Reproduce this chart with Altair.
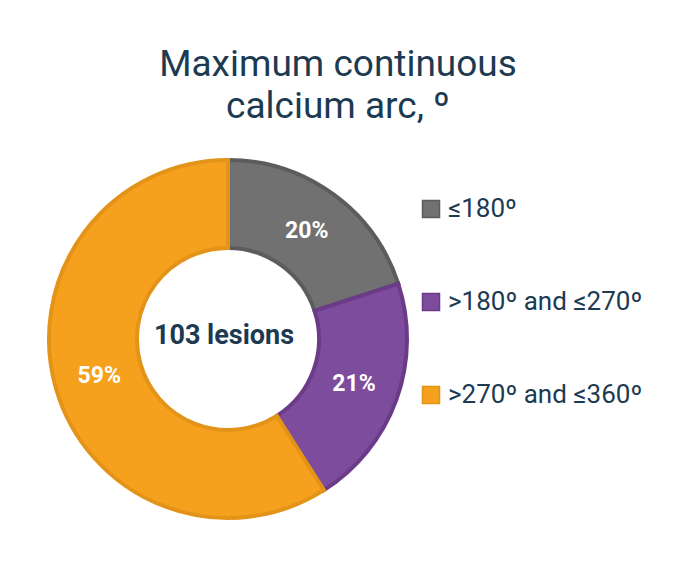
import altair as alt
import pandas as pd

categories = ["≤180º", ">180º and ≤270º", ">270º and ≤360º"]
percentages = [20, 21, 59]
label_texts = ["20%", "21%", "59%"]
fill_colors = ["#717171", "#7E4C9D", "#F5A11E"]
stroke_colors = ["#5C5C5C", "#6B3B88", "#E39418"]
center_label = ["103 lesions"]
title_lines = ["Maximum continuous", "calcium arc, º"]

CX, CY = 220, 191
NAVY = "#1C3A51"

df = pd.DataFrame({
    "category": categories,
    "pct": percentages,
    "label": label_texts,
    "order": list(range(len(categories))),
})
df_center = pd.DataFrame({"text": center_label})

legend = alt.Legend(
    title=None, orient="none", legendX=410, legendY=48,
    symbolType="square", symbolSize=289, symbolStrokeWidth=1.5,
    labelFont="Roboto", labelFontSize=26, labelColor=NAVY,
    labelOffset=4, rowPadding=67, labelLimit=400, padding=0,
)

base = alt.Chart(df).encode(
    theta=alt.Theta("pct:Q", stack=True),
    order=alt.Order("order:Q"),
)

arcs = base.mark_arc(outerRadius=179, innerRadius=91, strokeWidth=4).encode(
    x=alt.value(CX), y=alt.value(CY),
    color=alt.Color("category:N", scale=alt.Scale(domain=categories, range=fill_colors), legend=legend),
    stroke=alt.Stroke("category:N", scale=alt.Scale(domain=categories, range=stroke_colors), legend=legend),
)

labels = base.mark_text(radius=134, font="Roboto", fontSize=23, fontWeight="bold", color="white").encode(
    x=alt.value(CX), y=alt.value(CY),
    text="label:N",
)

center = alt.Chart(df_center).mark_text(
    font="Roboto", fontSize=27, fontWeight="bold", color=NAVY, dx=-4, dy=-3
).encode(
    x=alt.value(CX), y=alt.value(CY), text="text:N"
)

chart = alt.layer(arcs, labels, center).properties(
    width=678, height=400,
    autosize=alt.AutoSizeParams(type="none"),
    padding={"top": 140, "left": 0, "right": 0, "bottom": 0},
    title=alt.TitleParams(
        title_lines, font="Roboto", fontSize=37, fontWeight="normal", color=NAVY,
        anchor="middle", lineHeight=42, dx=-9, offset=22,
    ),
).configure_view(stroke=None)

chart.save("out.html", embed_options={"renderer": "svg", "actions": False})
